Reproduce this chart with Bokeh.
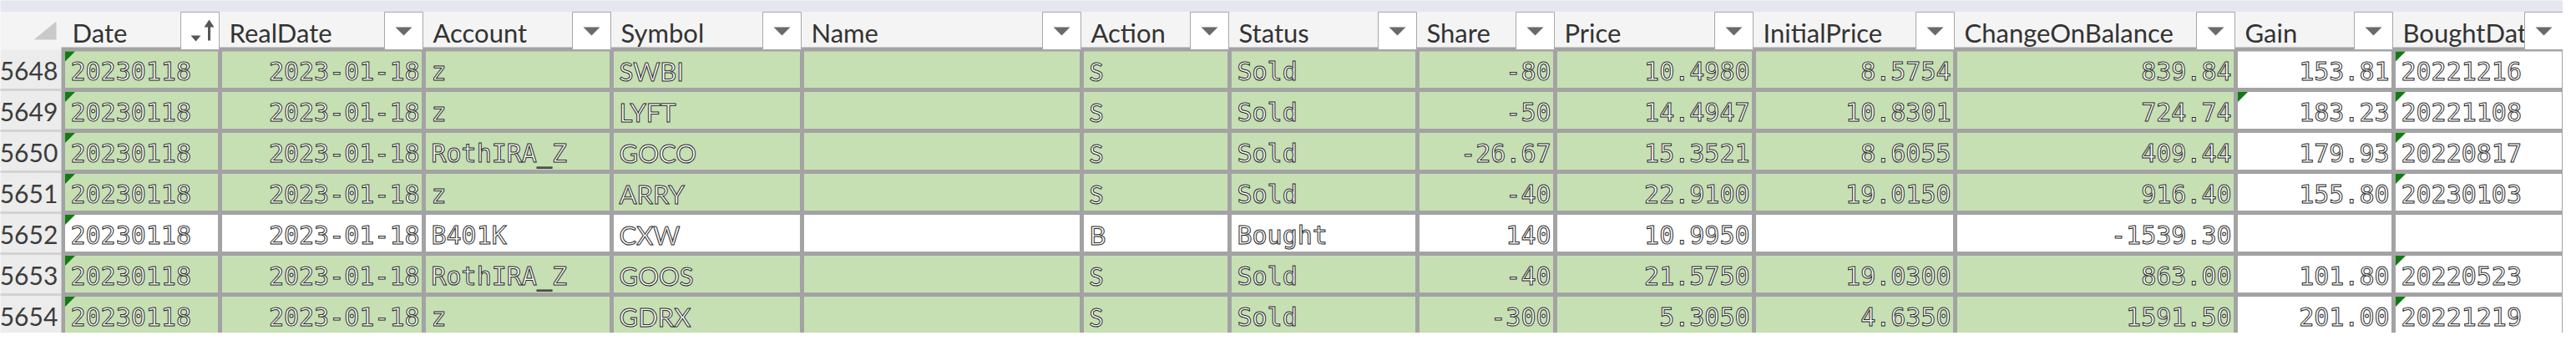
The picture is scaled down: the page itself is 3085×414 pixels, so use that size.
from bokeh.plotting import figure
from bokeh.models import ColumnDataSource, Range1d
from bokeh.core.properties import value
from bokeh.embed import file_html
from bokeh.resources import INLINE


# table content
headers = ["Date", "RealDate", "Account", "Symbol", "Name", "Action", "Status",
           "Share", "Price", "InitialPrice", "ChangeOnBalance", "Gain", "BoughtDate"]
row_numbers = ["5648", "5649", "5650", "5651", "5652", "5653", "5654"]
dates = ["20230118", "20230118", "20230118", "20230118", "20230118", "20230118", "20230118"]
real_dates = ["2023-01-18", "2023-01-18", "2023-01-18", "2023-01-18", "2023-01-18", "2023-01-18", "2023-01-18"]
accounts = ["z", "z", "RothIRA_Z", "z", "B401K", "RothIRA_Z", "z"]
symbols = ["SWBI", "LYFT", "GOCO", "ARRY", "CXW", "GOOS", "GDRX"]
names = ["", "", "", "", "", "", ""]
actions = ["S", "S", "S", "S", "B", "S", "S"]
statuses = ["Sold", "Sold", "Sold", "Sold", "Bought", "Sold", "Sold"]
shares = ["-80", "-50", "-26.67", "-40", "140", "-40", "-300"]
prices = ["10.4980", "14.4947", "15.3521", "22.9100", "10.9950", "21.5750", "5.3050"]
initial_prices = ["8.5754", "10.8301", "8.6055", "19.0150", "", "19.0300", "4.6350"]
changes = ["839.84", "724.74", "409.44", "916.40", "-1539.30", "863.00", "1591.50"]
gains = ["153.81", "183.23", "179.93", "155.80", "", "101.80", "201.00"]
bought_dates = ["20221216", "20221108", "20220817", "20230103", "", "20220523", "20221219"]
columns = [dates, real_dates, accounts, symbols, names, actions, statuses,
           shares, prices, initial_prices, changes, gains, bought_dates]

# layout of the sheet (pixels)
col_edges = [83, 271, 515, 740, 968, 1303, 1480, 1705, 1870, 2108, 2349, 2685, 2874, 3078]
row_edges = [66.5, 115, 164, 213, 262, 311, 360, 409, 458]
aligns = ["left", "right", "left", "left", "left", "left", "left",
          "right", "right", "right", "right", "right", "left"]
sans_cols = {"Symbol", "Action"}
white_cols = {"Gain", "BoughtDate"}
# cells carrying the little green "number stored as text" flag
flagged = {"Date": [0, 1, 2, 3, 4, 5, 6], "Gain": [1], "BoughtDate": [0, 1, 2, 3, 5, 6]}

GREEN = "#c6e0b4"
GRID = "#a3a3a3"

p = figure(width=3069, height=398, x_range=Range1d(8, 3077), y_range=Range1d(406, 8),
           output_backend="svg", toolbar_location=None, min_border=0)
p.axis.visible = False
p.grid.grid_line_color = None
p.outline_line_color = None
p.background_fill_color = "white"
p.border_fill_color = "white"

# top band, header row, row-number column
p.quad(left=0, right=3085, top=0, bottom=22, fill_color="#e4e7ee", line_color=None)
p.quad(left=0, right=3085, top=22, bottom=67, fill_color="#f4f4f4", line_color=None)
p.quad(left=0, right=82, top=67, bottom=414, fill_color="#ececec", line_color=None)
p.segment(x0=[0] * 8, x1=[81] * 8, y0=row_edges[1:], y1=row_edges[1:],
          line_color="#d3d3d3", line_width=3)
p.patch([48, 75, 75], [55, 55, 33], fill_color="#c9c9c9", line_color=None)

# grid background then cells
p.quad(left=81, right=3085, top=64, bottom=414, fill_color=GRID, line_color=None)
cl, cr, ct, cb, cf = [], [], [], [], []
for r in range(len(row_edges) - 1):
    for c, h in enumerate(headers):
        cl.append(col_edges[c] + 2.5)
        cr.append(col_edges[c + 1] - 2.5)
        ct.append(row_edges[r] + 2.5)
        cb.append(row_edges[r + 1] - 2.5)
        green = r < len(actions) and actions[r] == "S" and h not in white_cols
        cf.append(GREEN if green else "white")
p.quad(left="l", right="r", top="t", bottom="b", fill_color="f", line_color=None,
       source=ColumnDataSource(dict(l=cl, r=cr, t=ct, b=cb, f=cf)))

# green flags
fx, fy = [], []
for h, rows in flagged.items():
    c = headers.index(h)
    for r in rows:
        x0 = col_edges[c] + 2.5
        y0 = row_edges[r] + 2.5
        fx.append([x0, x0 + 12, x0])
        fy.append([y0, y0, y0 + 12])
p.patches(fx, fy, fill_color="#107c10", line_color=None)

# cell texts
mono = dict(x=[], y=[], t=[], a=[])
sans = dict(x=[], y=[], t=[], a=[])
for c, h in enumerate(headers):
    for r, txt in enumerate(columns[c]):
        if not txt:
            continue
        d = sans if h in sans_cols else mono
        x = col_edges[c] + 9 if aligns[c] == "left" else col_edges[c + 1] - 5
        d["x"].append(x)
        d["y"].append((row_edges[r] + row_edges[r + 1]) / 2 + 2)
        d["t"].append(txt)
        d["a"].append(aligns[c])
p.text(x="x", y="y", text="t", text_align="a", source=ColumnDataSource(mono),
       text_font=value("DejaVu Sans Mono"), text_font_size="30px",
       text_baseline="middle", text_color="white", text_outline_color="#2a2a2a")
p.text(x="x", y="y", text="t", text_align="a", source=ColumnDataSource(sans),
       text_font=value("Lato"), text_font_size="31px",
       text_baseline="middle", text_color="white", text_outline_color="#2a2a2a")

# row numbers
p.text(x=[42] * len(row_numbers),
       y=[(row_edges[i] + row_edges[i + 1]) / 2 + 2 for i in range(len(row_numbers))],
       text=row_numbers, text_font=value("Lato"), text_font_size="30px",
       text_align="center", text_baseline="middle", text_color="#3c3c3c")

# header labels
p.text(x=[e + 11 for e in col_edges[:-1]], y=[46] * len(headers), text=headers,
       text_font=value("Lato"), text_font_size="31px", text_align="left",
       text_baseline="middle", text_color="#333333")

# filter buttons
bl = [e - 47 for e in col_edges[1:]]
br = [e - 1 for e in col_edges[1:]]
p.quad(left=bl, right=br, top=22, bottom=67, fill_color="white", line_color="#a8a8a8",
       line_width=1)
tx, ty = [], []
for i in range(1, len(headers)):
    m = (bl[i] + br[i]) / 2
    tx.append([m - 10, m + 10, m])
    ty.append([40, 40, 50])
p.patches(tx, ty, fill_color="#6a6a6a", line_color=None)
# sort marker on Date
p.patch([236, 248, 242], [50, 50, 57], fill_color="#555555", line_color=None)
p.segment(x0=[258], y0=[36], x1=[258], y1=[56], line_color="#555555", line_width=3)
p.patch([252, 264, 258], [40, 40, 31], fill_color="#555555", line_color=None)

open("out.html", "w").write(file_html(p, INLINE))
